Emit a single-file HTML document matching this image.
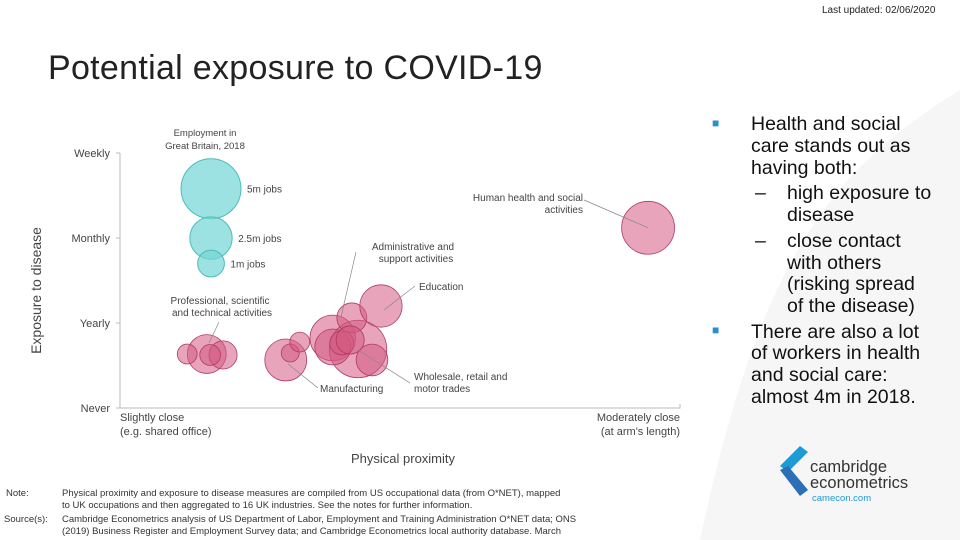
<!DOCTYPE html>
<html><head><meta charset="utf-8">
<style>
body{margin:0;width:960px;height:540px;overflow:hidden;background:#fff;font-family:"Liberation Sans",sans-serif;position:relative;color:#222}
.abs{position:absolute;white-space:nowrap}
.rt{font-size:19.5px;color:#111;line-height:22px}
.sm{font-size:9.5px;color:#333}
</style></head><body>
<svg class="abs" style="left:0;top:0" width="960" height="540"><path d="M960 90 C 830 170 760 260 700 540 L960 540Z" fill="#f6f6f6"/></svg>
<div class="abs" style="left:822px;top:5px;font-size:10px">Last updated: 02/06/2020</div>
<div class="abs" style="left:48px;top:49px;font-size:34px;font-weight:300;color:#222;letter-spacing:0.3px">Potential exposure to COVID-19</div>

<svg id="chart" class="abs" style="left:0;top:0" width="700" height="480"></svg>

<div>
<div class="abs" style="left:712px;top:116px;color:#2a8fd0;font-size:12px">■</div>
<div class="abs" style="left:712px;top:323px;color:#2a8fd0;font-size:12px">■</div>
<div class="abs rt" style="left:751px;top:113px">Health and social</div>
<div class="abs rt" style="left:751px;top:135px">care stands out as</div>
<div class="abs rt" style="left:751px;top:157px">having both:</div>
<div class="abs rt" style="left:755px;top:182px">–</div>
<div class="abs rt" style="left:787px;top:182px">high exposure to</div>
<div class="abs rt" style="left:787px;top:204px">disease</div>
<div class="abs rt" style="left:755px;top:230px">–</div>
<div class="abs rt" style="left:787px;top:230px">close contact</div>
<div class="abs rt" style="left:787px;top:252px">with others</div>
<div class="abs rt" style="left:787px;top:273px">(risking spread</div>
<div class="abs rt" style="left:787px;top:295px">of the disease)</div>
<div class="abs rt" style="left:751px;top:321px">There are also a lot</div>
<div class="abs rt" style="left:751px;top:342px">of workers in health</div>
<div class="abs rt" style="left:751px;top:364px">and social care:</div>
<div class="abs rt" style="left:751px;top:386px">almost 4m in 2018.</div>
</div>

<div>
<svg class="abs" style="left:778px;top:446px" width="32" height="56"><polygon points="22,0 30,6 10,26 2,20" fill="#1e9ad6"/><polygon points="2,24 10,20 30,44 22,50" fill="#2a6fb8"/></svg>
<div class="abs" style="left:810px;top:459px;font-size:16.5px;color:#333;line-height:16px">cambridge<br>econometrics</div>
<div class="abs" style="left:812px;top:493px;font-size:9.5px;color:#1e9ad6">camecon.com</div>
</div>

<div class="abs sm" style="left:6px;top:488px">Note:</div>
<div class="abs sm" style="left:62px;top:488px;line-height:12px">Physical proximity and exposure to disease measures are compiled from US occupational data (from O*NET), mapped<br>to UK occupations and then aggregated to 16 UK industries. See the notes for further information.</div>
<div class="abs sm" style="left:4px;top:514px">Source(s):</div>
<div class="abs sm" style="left:62px;top:514px;line-height:12px">Cambridge Econometrics analysis of US Department of Labor, Employment and Training Administration O*NET data; ONS<br>(2019) Business Register and Employment Survey data; and Cambridge Econometrics local authority database. March</div>

<script>
const industries=["Health","Prof1","Prof2","Prof3","Prof4","Manuf","Ind6","Ind7","Ind8","Wholesale","Ind10","Admin","Education","Ind13","Ind14","Ind15"];
const proximity=[0.943,0.155,0.12,0.184,0.161,0.296,0.304,0.321,0.38,0.425,0.45,0.414,0.466,0.38,0.396,0.411];
const exposure=[2.12,0.635,0.635,0.624,0.624,0.565,0.647,0.776,0.824,0.694,0.565,1.06,1.2,0.718,0.765,0.8];
const jobs=[3.9,2.1,0.55,1.1,0.6,2.45,0.45,0.55,2.9,4.6,1.4,1.25,2.5,1.8,0.8,1.1];
const yTicks=["Never","Yearly","Monthly","Weekly"];
const legendJobs=[5,2.5,1];
const legendLabels=["5m jobs","2.5m jobs","1m jobs"];
const legendExposure=[2.58,2.0,1.7];
const NS="http://www.w3.org/2000/svg";
const svg=document.getElementById("chart");
const X0=120,X1=680,Y0=408,YS=85;
const xs=v=>X0+v*(X1-X0);
const ys=v=>Y0-v*YS;
const rs=j=>Math.sqrt(j)*13.4;
function mk(t,a,p){const e=document.createElementNS(NS,t);for(const k in a)e.setAttribute(k,a[k]);(p||svg).appendChild(e);return e;}
function txt(x,y,s,anchor,size,name){const e=mk("text",{x:x,y:y,"text-anchor":anchor||"start","font-size":size||10,fill:"#444","font-family":"Liberation Sans, sans-serif"});e.textContent=s;

return e;}
const ax=mk("path",{d:`M${X0} ${ys(3)}V${Y0}H${X1}V${Y0-4}`,stroke:"#bbb",fill:"none"});


yTicks.forEach((t,i)=>{mk("line",{x1:X0-4,x2:X0,y1:ys(i),y2:ys(i),stroke:"#bbb"});txt(X0-10,ys(i)+4,t,"end",11,"y-tick-"+t.toLowerCase());});
const yt=txt(0,0,"Exposure to disease","middle",14,"y-axis-title");yt.setAttribute("transform",`translate(41,${(ys(0)+ys(3))/2+10}) rotate(-90)`);
txt(X0,421,"Slightly close","start",11,"x-tick-slightly-close");txt(X0,435,"(e.g. shared office)","start",11,"x-tick-slightly-close-sub");
txt(X1,421,"Moderately close","end",11,"x-tick-moderately-close");txt(X1,435,"(at arm's length)","end",11,"x-tick-moderately-close-sub");
txt(403,463,"Physical proximity","middle",13,"x-axis-title");
txt(205,136,"Employment in","middle",9.5,"legend-title");txt(205,149,"Great Britain, 2018","middle",9.5,"legend-title-2");
legendJobs.forEach((j,i)=>{const r=rs(j);const cy=ys(legendExposure[i]);const c=mk("circle",{cx:211,cy:cy,r:r,fill:"rgba(115,214,214,0.7)",stroke:"#4cbcbc"});


txt(211+r+6,cy+4,legendLabels[i],"start",10,"legend-label-"+i);});
industries.forEach((n,i)=>{const c=mk("circle",{cx:xs(proximity[i]),cy:ys(exposure[i]),r:rs(jobs[i]),fill:"rgba(212,90,130,0.55)",stroke:"#b23a62","stroke-width":0.8});

});
function lead(x1,y1,x2,y2){mk("line",{x1:x1,y1:y1,x2:x2,y2:y2,stroke:"#888","stroke-width":0.7});}
lead(584,200,xs(proximity[0]),ys(exposure[0]));
txt(583,201,"Human health and social","end",10,"label-health");txt(583,213,"activities","end",10,"label-health-2");
lead(356,252,341,317);txt(413,250,"Administrative and","middle",10,"label-admin");txt(416,262,"support activities","middle",10,"label-admin-2");
lead(415,286,384,310);txt(419,290,"Education","start",10,"label-education");
lead(219,322,209,343);txt(220,304,"Professional, scientific","middle",10,"label-professional");txt(222,316,"and technical activities","middle",10,"label-professional-2");
lead(318,388,288,364);txt(320,392,"Manufacturing","start",10,"label-manufacturing");
lead(410,383,358,350);txt(414,380,"Wholesale, retail and","start",10,"label-wholesale");txt(414,392,"motor trades","start",10,"label-wholesale-2");
</script>
</body></html>
